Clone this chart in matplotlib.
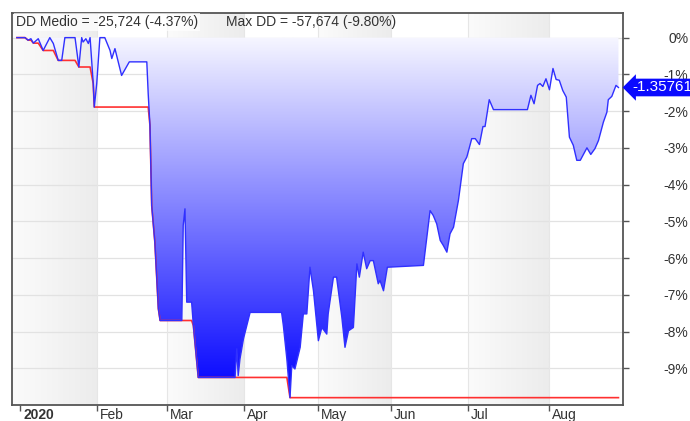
import numpy as np
import matplotlib
matplotlib.use('Agg')
import matplotlib.pyplot as plt
import matplotlib.transforms as mtransforms
from matplotlib.colors import LinearSegmentedColormap
from matplotlib.patches import PathPatch

plt.rcParams['font.family'] = ['Liberation Sans', 'DejaVu Sans']

# drawdown curve (trading-day index, drawdown %)
dd_day = [0.0, 2.3, 3.2, 4.0, 4.7, 6.1, 7.5, 9.4, 10.4, 11.8, 12.8, 13.7, 16.6, 17.7, 18.5,
          18.9, 19.7, 20.4, 20.9, 21.8, 22.1, 22.8, 23.7, 25.1, 26.6, 27.1, 28.0, 29.9, 32.1,
          37.1, 37.5, 38.0, 38.5, 39.4, 40.4, 40.9, 47.1, 47.5, 48.0, 48.5, 49.9, 50.4, 51.3,
          51.8, 62.3, 62.8, 63.2, 63.7, 64.7, 66.6, 75.6, 76.1, 77.1, 78.0, 78.5, 79.4, 80.9,
          81.8, 82.8, 83.7, 84.7, 86.1, 87.1, 88.5, 88.9, 90.4, 91.3, 92.8, 93.7, 94.7, 96.1,
          97.1, 97.8, 98.9, 99.9, 100.9, 101.8, 103.2, 103.7, 104.7, 105.8, 116.1, 118.0,
          118.9, 119.9, 120.9, 121.8, 122.8, 123.7, 124.7, 126.1, 127.5, 128.5, 129.9, 130.9,
          132.1, 133.1, 133.7, 134.9, 136.1, 145.8, 146.8, 147.7, 148.7, 149.4, 150.2, 151.1,
          152.1, 153.1, 154.0, 154.9, 155.9, 156.9, 157.8, 158.9, 159.9, 160.9, 162.8, 163.9,
          165.1, 166.1, 167.5, 168.5, 168.9, 169.9, 171.1, 171.8]
dd_pct = [0.0, 0.0, -0.07, -0.03, -0.15, -0.03, -0.35, 0.0, -0.16, -0.62, -0.62, 0.0, 0.0, -0.80, 0.0,
          -0.12, -0.03, -0.16, 0.0, -1.25, -1.89, -1.25, 0.0, 0.0, -0.35, -0.57, -0.30, -1.03, -0.66,
          -0.66, -1.53, -2.39, -4.57, -5.57, -7.38, -7.70, -7.70, -5.11, -4.66, -7.20, -7.20, -7.84, -8.75,
          -9.25, -9.25, -8.47, -9.20, -8.75, -8.20, -7.48, -7.48, -7.84, -8.75, -9.80, -8.93, -9.02, -8.43,
          -7.52, -7.52, -6.25, -6.89, -8.25, -7.89, -8.07, -7.52, -6.52, -6.52, -7.61, -8.43, -7.98, -7.89,
          -6.16, -6.52, -5.84, -6.29, -6.07, -6.07, -6.70, -6.61, -6.89, -6.25, -6.20, -4.71,
          -4.84, -5.07, -5.52, -5.66, -5.84, -5.34, -5.16, -4.43, -3.43, -3.25, -2.75, -2.75,
          -2.91, -2.42, -2.42, -1.69, -1.96, -1.96, -1.57, -1.80, -1.30, -1.25, -1.33, -1.12,
          -1.42, -0.84, -1.14, -1.16, -1.44, -1.62, -2.71, -2.93, -3.34, -3.34, -3.00, -3.18,
          -3.02, -2.80, -2.30, -2.03, -1.69, -1.60, -1.30, -1.35761]

month_pos = [0.9, 22.9, 42.9, 64.9, 86.0, 106.9, 128.9, 152.0]
month_lbl = ['2020', 'Feb', 'Mar', 'Apr', 'May', 'Jun', 'Jul', 'Aug']
y_ticks = [0, -1, -2, -3, -4, -5, -6, -7, -8, -9]
title_avg = 'DD Medio = -25,724 (-4.37%)'
title_max = 'Max DD = -57,674 (-9.80%)'
last_lbl = '-1.35761'

x = np.array(dd_day)
y = np.array(dd_pct)
max_dd = np.minimum.accumulate(y)  # running worst drawdown

xmin, xmax = -1.4, 173.1
ymin, ymax = -10.0, 0.67

fig = plt.figure(figsize=(6.9, 4.21), dpi=100)
ax = fig.add_axes([12/690, 16/421, 611/690, 392/421])

# alternating month bands with a soft horizontal gradient
band_cmap = LinearSegmentedColormap.from_list('band', ['#fbfbfb', '#ececec'])
edges = [xmin] + month_pos[1:] + [xmax]
for i in range(0, len(edges) - 1, 2):
    ax.imshow(np.linspace(0, 1, 64).reshape(1, -1), cmap=band_cmap, aspect='auto',
              extent=[edges[i], edges[i + 1], ymin, ymax], zorder=0)

for t in y_ticks:
    ax.axhline(t, color='#e2e2e2', lw=0.9, zorder=1)
for p in month_pos[1:]:
    ax.axvline(p, color='#e6e6e6', lw=0.8, zorder=1)

# gradient fill between 0 and the drawdown curve
fill = ax.fill_between(x, y, 0, color='none', lw=0)
clip = PathPatch(fill.get_paths()[0], transform=ax.transData, fc='none', ec='none')
ax.add_patch(clip)
grad_cmap = LinearSegmentedColormap.from_list('dd', ['#0000ff', '#f6f6ff'])
grad = ax.imshow(np.linspace(0, 1, 256).reshape(-1, 1), cmap=grad_cmap, aspect='auto',
                 origin='lower', extent=[x[0], x[-1], min(dd_pct), 0], zorder=2)
grad.set_clip_path(clip)

ax.plot(x, max_dd, color='#ff3030', lw=1.2, zorder=3)
ax.plot(x, y, color='#3030ff', lw=1.0, zorder=4)

ax.set_xlim(xmin, xmax)
ax.set_ylim(ymin, ymax)

# axes frame
for s in ax.spines.values():
    s.set_color('#555555')
    s.set_linewidth(1.3)

ax.yaxis.tick_right()
ax.set_yticks(y_ticks)
ax.set_yticklabels([f'{t}%' for t in y_ticks])
ax.tick_params(axis='y', direction='out', length=4, width=1, color='#555555',
               labelsize=10, labelcolor='#333333', pad=43)
for lab in ax.get_yticklabels():
    lab.set_horizontalalignment('right')

ax.set_xticks(month_pos)
ax.set_xticklabels(month_lbl)
ax.tick_params(axis='x', direction='out', length=4, width=1, color='#555555',
               labelsize=10, labelcolor='#333333', pad=-2)
shift = mtransforms.ScaledTranslation(3/100, 0, fig.dpi_scale_trans)
for lab in ax.get_xticklabels():
    lab.set_horizontalalignment('left')
    lab.set_transform(lab.get_transform() + shift)
ax.get_xticklabels()[0].set_fontweight('bold')

ax.text(0.0065, 0.977, title_avg, transform=ax.transAxes, fontsize=10, color='#333333',
        va='center', ha='left', zorder=6,
        bbox=dict(boxstyle='square,pad=0.15', fc='white', ec='none', alpha=0.7))
ax.text(0.35, 0.977, title_max, transform=ax.transAxes, fontsize=10, color='#333333',
        va='center', ha='left', zorder=6)

# last value marker on the right axis
lbl_tr = mtransforms.blended_transform_factory(ax.transAxes, ax.transData) + \
    mtransforms.ScaledTranslation(9/100, 0, fig.dpi_scale_trans)
ax.text(1.0, dd_pct[-1], last_lbl, transform=lbl_tr, fontsize=11, color='white',
        va='center', ha='left', clip_on=False, zorder=7,
        bbox=dict(boxstyle='larrow,pad=0.12', fc='#0a0aff', ec='none'))

fig.savefig('out.png', dpi=100)
